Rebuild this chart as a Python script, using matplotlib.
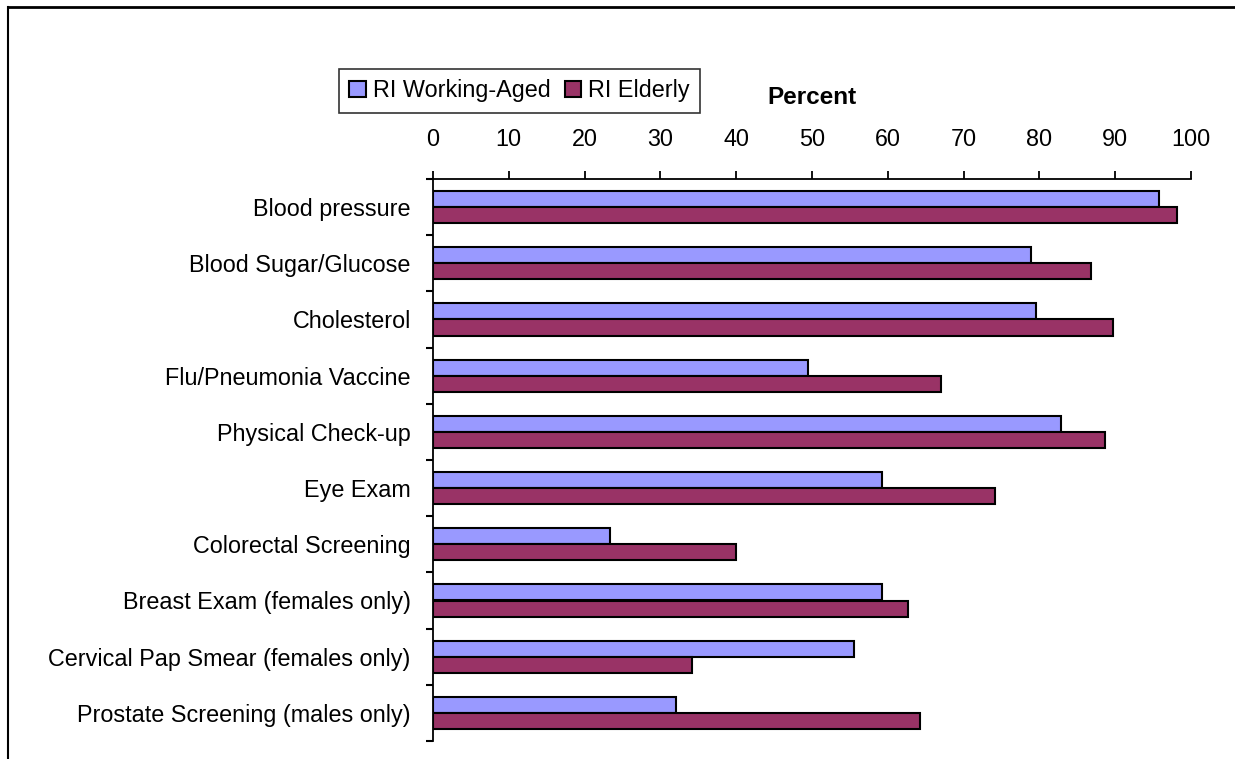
import numpy as np
import matplotlib.pyplot as plt
from matplotlib.lines import Line2D

plt.rcParams['font.family'] = ['Liberation Sans', 'DejaVu Sans']

# data
categories = ['Blood pressure', 'Blood Sugar/Glucose', 'Cholesterol',
              'Flu/Pneumonia Vaccine', 'Physical Check-up', 'Eye Exam',
              'Colorectal Screening', 'Breast Exam (females only)',
              'Cervical Pap Smear (females only)', 'Prostate Screening (males only)']
working_aged = [95.8, 78.9, 79.5, 49.5, 82.8, 59.2, 23.4, 59.2, 55.6, 32.1]
elderly = [98.2, 86.8, 89.7, 67.0, 88.7, 74.2, 40.0, 62.6, 34.2, 64.2]
xticks = [0, 10, 20, 30, 40, 50, 60, 70, 80, 90, 100]

fs = 16.8

fig = plt.figure(figsize=(12.35, 7.59), dpi=100)
ax = fig.add_axes([433/1235, 18/759, 758/1235, 562/759])

y = np.arange(len(categories))
h = 0.286
ax.barh(y - h/2, working_aged, height=h, color='#9999ff', edgecolor='black',
        linewidth=1.5, label='RI Working-Aged')
ax.barh(y + h/2, elderly, height=h, color='#993366', edgecolor='black',
        linewidth=1.5, label='RI Elderly')

ax.set_xlim(0, 100)
ax.set_ylim(len(categories) - 0.5, -0.5)

# x axis on top
ax.xaxis.set_ticks_position('top')
ax.set_xticks(xticks)
ax.set_xticklabels([str(t) for t in xticks], fontsize=fs)
ax.tick_params(axis='x', direction='out', length=6, width=1.3, pad=14)

# y ticks at boundaries, labels at centres
ax.set_yticks(np.arange(len(categories) + 1) - 0.5)
ax.set_yticklabels([])
ax.set_yticks(y, minor=True)
ax.set_yticklabels(categories, minor=True, fontsize=fs)
ax.tick_params(axis='y', which='major', direction='out', length=5, width=1.5)
ax.tick_params(axis='y', which='minor', length=0, pad=16)

for s in ['right', 'bottom']:
    ax.spines[s].set_visible(False)
ax.spines['top'].set_linewidth(1.3)
ax.spines['left'].set_linewidth(1.3)

fig.text(812/1235, 1 - 97/759, 'Percent', fontsize=17.5, fontweight='bold',
         ha='center', va='center')

leg = fig.legend(loc='center', bbox_to_anchor=(519.5/1235, 1 - 90.5/759), ncol=2,
                 fontsize=fs, frameon=True, fancybox=False, edgecolor='black',
                 handlelength=0.7, handleheight=0.7, handletextpad=0.3,
                 columnspacing=0.6, borderpad=0.45, borderaxespad=0)
leg.get_frame().set_linewidth(1.2)

# outer border lines (top and left)
fig.add_artist(Line2D([8/1235, 1], [1 - 6.5/759, 1 - 6.5/759], color='black', linewidth=2,
                      transform=fig.transFigure))
fig.add_artist(Line2D([8/1235, 8/1235], [0, 1 - 6.5/759], color='black', linewidth=1.5,
                      transform=fig.transFigure))

fig.savefig('out.png', dpi=100)
